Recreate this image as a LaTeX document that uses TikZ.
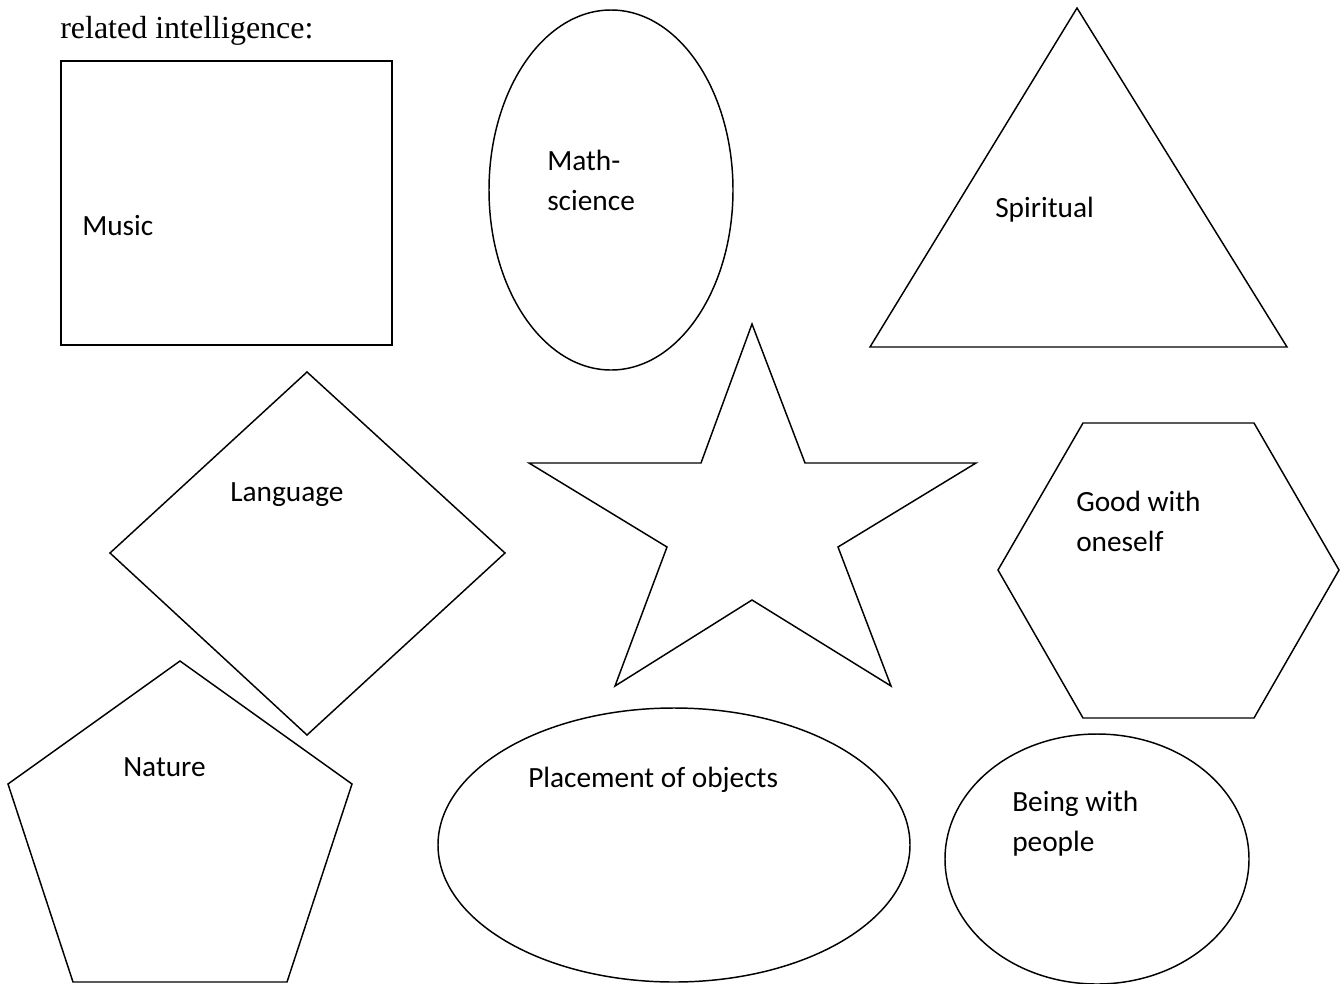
\documentclass[tikz,border=0pt]{standalone}
\usepackage{fontspec}
\setmainfont{Carlito}
\newfontfamily\serifhead{Liberation Serif}
\begin{document}
\begin{tikzpicture}[x=0.75pt,y=-0.75pt,
  shapeline/.style={draw=black,line width=1.1pt,line join=miter},
  lbl/.style={anchor=base west,inner sep=0pt,font=\fontsize{22}{30}\selectfont}]
\useasboundingbox (0,0) rectangle (1340,983);
\begin{scope}
\clip (0,0) rectangle (1340,983);
% heading line
\node[anchor=base west,inner sep=0pt,font=\serifhead\fontsize{24}{28}\selectfont] (head) at (60,38) {related intelligence:};

% square
\draw[shapeline] (61,61) rectangle (392,345);
\node[lbl] (music) at (82,235) {Music};

% tall ellipse
\draw[shapeline] (611,190) ellipse [x radius=122, y radius=180];
\node[lbl] (math) at (547,170) {Math-};
\node[lbl] (science) at (547,210) {science};

% triangle
\draw[shapeline] (1077,8) -- (1287,347) -- (870,347) -- cycle;
\node[lbl] (spirit) at (995,217) {Spiritual};

% diamond
\draw[shapeline] (307,372) -- (505,553) -- (307,735) -- (110,553) -- cycle;
\node[lbl] (lang) at (230,501) {Language};

% star
\draw[shapeline] (752,324) -- (805,463) -- (976,463) -- (838,547) -- (891,686)
  -- (752,600) -- (615,686) -- (667,547) -- (529,463) -- (701,463) -- cycle;

% hexagon
\draw[shapeline] (1083,423) -- (1254,423) -- (1339,570) -- (1254,718)
  -- (1083,718) -- (998,570) -- cycle;
\node[lbl] (good) at (1076,511) {Good with};
\node[lbl] (oneself) at (1076,551) {oneself};

% pentagon
\draw[shapeline] (180,661) -- (352,784) -- (287,982) -- (73,982) -- (8,784) -- cycle;
\node[lbl] (nature) at (123,776) {Nature};

% wide ellipse
\draw[shapeline] (674,845) ellipse [x radius=236, y radius=137];
\node[lbl] (place) at (528,787) {Placement of objects};

% small ellipse
\draw[shapeline] (1097,859) ellipse [x radius=152, y radius=125];
\node[lbl] (being) at (1012,811) {Being with};
\node[lbl] (people) at (1012,851) {people};
\end{scope}
\end{tikzpicture}
\end{document}
